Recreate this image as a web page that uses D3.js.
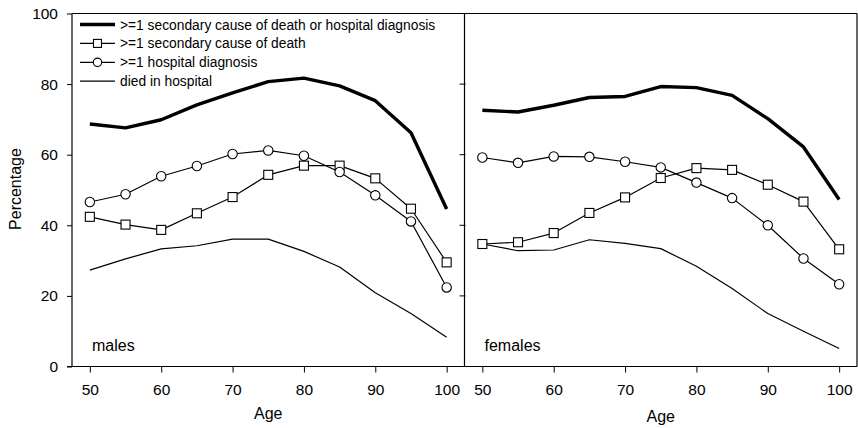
<!DOCTYPE html>
<html>
<head>
<meta charset="utf-8">
<script src="https://cdn.jsdelivr.net/npm/d3@7"></script>
<style>
  html, body { margin: 0; padding: 0; background: #fff; }
  svg { display: block; font-family: "Liberation Sans", Arial, Helvetica, sans-serif; }
</style>
</head>
<body>
<svg id="chart" width="858" height="428"></svg>
<script>
// Age groups shown on the x axis
const ages = [50, 55, 60, 65, 70, 75, 80, 85, 90, 95, 100];

// Males (%)
const maleAny   = [68.7, 67.6, 69.9, 74.1, 77.5, 80.7, 81.7, 79.5, 75.3, 66.2, 44.6];
const maleCause = [42.4, 40.2, 38.7, 43.4, 48.0, 54.3, 56.9, 56.9, 53.3, 44.7, 29.5];
const maleHosp  = [46.6, 48.8, 53.9, 56.8, 60.2, 61.2, 59.7, 55.1, 48.5, 41.1, 22.4];
const maleDied  = [27.3, 30.5, 33.3, 34.2, 36.1, 36.1, 32.6, 28.2, 20.9, 15.0, 8.3];

// Females (%)
const femaleAny   = [72.6, 72.1, 74.0, 76.2, 76.5, 79.3, 79.0, 76.8, 70.2, 62.2, 47.3];
const femaleCause = [34.7, 35.2, 37.8, 43.5, 47.9, 53.4, 56.2, 55.7, 51.5, 46.7, 33.2];
const femaleHosp  = [59.2, 57.7, 59.5, 59.4, 58.0, 56.4, 52.1, 47.7, 40.0, 30.6, 23.3];
const femaleDied  = [34.7, 32.8, 33.0, 35.9, 34.9, 33.4, 28.4, 22.1, 15.0, 10.0, 5.1];

const xTicks = [50, 60, 70, 80, 90, 100];
const yTicks = [0, 20, 40, 60, 80, 100];

const seriesLabels = [
  ">=1 secondary cause of death or hospital diagnosis",
  ">=1 secondary cause of death",
  ">=1 hospital diagnosis",
  "died in hospital"
];
const seriesMarkers = ["none", "square", "circle", "none"];
const seriesWidths = [3.4, 1.2, 1.2, 1.2];

const panelNames = ["males", "females"];
const panelData = [
  [maleAny, maleCause, maleHosp, maleDied],
  [femaleAny, femaleCause, femaleHosp, femaleDied]
];

const svg = d3.select("#chart");
const ink = "#000";
const tickFont = 15.5;
const titleFont = 16;

const plotTop = 13.5, plotBottom = 366.5;
const panelRanges = [[72, 464.5], [464.5, 857]];

const y = d3.scaleLinear().domain([0, 100]).range([plotBottom, plotTop]);

function drawMarker(g, kind, cx, cy, size) {
  const h = size / 2;
  if (kind === "square") {
    g.append("rect")
      .attr("x", cx - h).attr("y", cy - h)
      .attr("width", size).attr("height", size)
      .attr("fill", "#fff").attr("stroke", ink).attr("stroke-width", 1.1);
  } else if (kind === "circle") {
    g.append("circle")
      .attr("cx", cx).attr("cy", cy).attr("r", h + 0.2)
      .attr("fill", "#fff").attr("stroke", ink).attr("stroke-width", 1.1);
  }
}

panelRanges.forEach((range, p) => {
  const x = d3.scaleLinear().domain([47.5, 102.5]).range(range);
  const g = svg.append("g");

  // x axis
  const xa = g.append("g")
    .attr("transform", `translate(0,${plotBottom})`)
    .call(d3.axisBottom(x).tickValues(xTicks).tickSize(6).tickSizeOuter(0).tickPadding(11));
  xa.select(".domain").remove();
  xa.selectAll(".tick line").attr("stroke", ink).attr("stroke-width", 1);
  xa.selectAll(".tick text").attr("font-size", tickFont).attr("fill", ink)
    .attr("font-family", "'Liberation Sans', Arial, sans-serif");

  // series lines
  const line = d3.line().x((d, i) => x(ages[i])).y(d => y(d));
  panelData[p].forEach((vals, s) => {
    g.append("path")
      .datum(vals)
      .attr("d", line)
      .attr("fill", "none")
      .attr("stroke", ink)
      .attr("stroke-width", seriesWidths[s])
      .attr("stroke-linejoin", "round");
  });
  panelData[p].forEach((vals, s) => {
    if (seriesMarkers[s] === "none") return;
    vals.forEach((v, i) => drawMarker(g, seriesMarkers[s], x(ages[i]), y(v), 9));
  });

  // panel label
  g.append("text")
    .attr("x", range[0] + 20).attr("y", 351)
    .attr("font-size", titleFont).attr("fill", ink)
    .text(panelNames[p]);

  // axis title
  g.append("text")
    .attr("x", (x(50) + x(100)) / 2).attr("y", p === 0 ? 418.5 : 421.5)
    .attr("text-anchor", "middle")
    .attr("font-size", titleFont).attr("fill", ink)
    .text("Age");
});

// y axis on the left
const ya = svg.append("g")
  .attr("transform", `translate(${panelRanges[0][0]},0)`)
  .call(d3.axisLeft(y).tickValues(yTicks).tickSize(5).tickSizeOuter(0).tickPadding(9));
ya.select(".domain").remove();
ya.selectAll(".tick line").attr("stroke", ink);
ya.selectAll(".tick text").attr("font-size", tickFont).attr("fill", ink)
  .attr("font-family", "'Liberation Sans', Arial, sans-serif");

// ticks on the divider between panels
svg.append("g").selectAll("line")
  .data(yTicks.slice(1, -1))
  .join("line")
  .attr("x1", panelRanges[0][1] - 5).attr("x2", panelRanges[0][1] + 1)
  .attr("y1", d => y(d)).attr("y2", d => y(d))
  .attr("stroke", ink);

// frame
const frame = svg.append("g").attr("stroke", ink).attr("stroke-width", 1.2).attr("fill", "none");
frame.append("line").attr("x1", panelRanges[0][0]).attr("x2", panelRanges[1][1]).attr("y1", plotTop).attr("y2", plotTop);
frame.append("line").attr("x1", panelRanges[0][0] - 5).attr("x2", panelRanges[1][1]).attr("y1", plotBottom).attr("y2", plotBottom);
frame.append("line").attr("x1", panelRanges[0][0]).attr("x2", panelRanges[0][0]).attr("y1", plotTop).attr("y2", plotBottom);
frame.append("line").attr("x1", panelRanges[0][1]).attr("x2", panelRanges[0][1]).attr("y1", plotTop).attr("y2", plotBottom);
frame.append("line").attr("x1", panelRanges[1][1]).attr("x2", panelRanges[1][1]).attr("y1", plotTop).attr("y2", plotBottom);

// y title
svg.append("text")
  .attr("transform", "translate(21,189) rotate(-90)")
  .attr("text-anchor", "middle")
  .attr("font-size", titleFont).attr("fill", ink)
  .text("Percentage");

// legend
const legend = svg.append("g");
seriesLabels.forEach((label, s) => {
  const ly = 24.5 + s * 18.9;
  legend.append("line")
    .attr("x1", 80).attr("x2", 115).attr("y1", ly).attr("y2", ly)
    .attr("stroke", ink).attr("stroke-width", s === 0 ? 3.6 : 1.2);
  drawMarker(legend, seriesMarkers[s], 97.5, ly, 8);
  legend.append("text")
    .attr("x", 120).attr("y", ly + 5)
    .attr("font-size", 13.8).attr("fill", ink)
    .text(label);
});
</script>
</body>
</html>
